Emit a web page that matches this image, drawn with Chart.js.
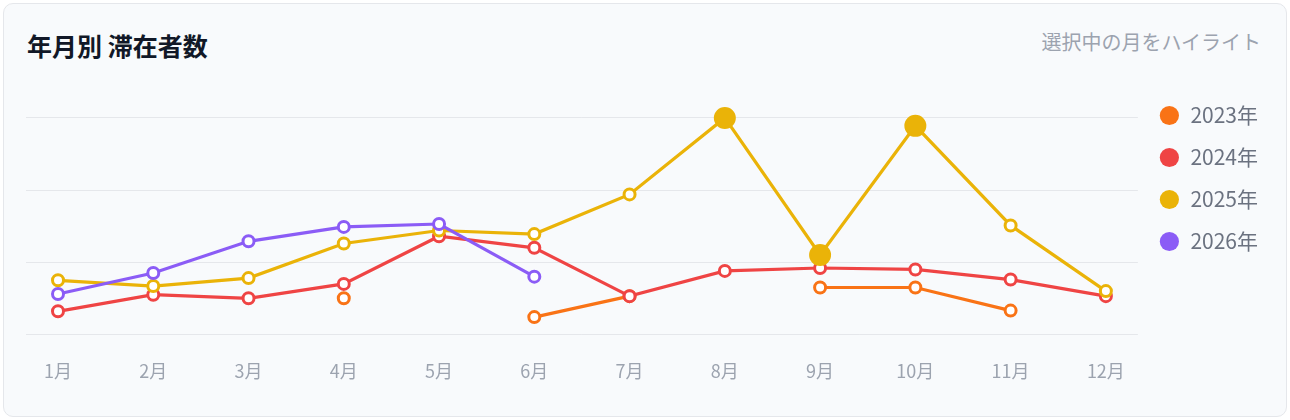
<!DOCTYPE html>
<html lang="ja">
<head>
<meta charset="utf-8">
<title>年月別 滞在者数</title>
<script src="https://cdn.jsdelivr.net/npm/chart.js@4.4.1/dist/chart.umd.min.js"></script>
<style>
  html, body { margin: 0; padding: 0; background: #ffffff; }
  body { width: 1290px; height: 420px; position: relative; overflow: hidden;
         font-family: "Noto Sans CJK JP", "Noto Sans", sans-serif; }
  .card { position: absolute; left: 3px; top: 3px; width: 1284px; height: 414px; box-sizing: border-box;
          background: #f8fafc; border: 1px solid #e5e7eb; border-radius: 10px; }
  .title { position: absolute; left: 27px; top: 30px; line-height: 30px; font-size: 25px;
           font-weight: 700; color: #111827; }
  .note { position: absolute; right: 29px; top: 27px; line-height: 30px; font-size: 20px; color: #9ca3af; }
  .chart-box { position: absolute; left: 26px; top: 84px; width: 1242px; height: 302px; }
</style>
</head>
<body>
<div class="card"></div>
<div class="title">年月別 滞在者数</div>
<div class="note">選択中の月をハイライト</div>
<div class="chart-box"><canvas id="stayChart"></canvas></div>
<script>
const FONT = '"Noto Sans CJK JP", "Noto Sans", sans-serif';

const months = ['1月', '2月', '3月', '4月', '5月', '6月', '7月', '8月', '9月', '10月', '11月', '12月'];
const years = ['2023年', '2024年', '2025年', '2026年'];
const colors = ['#f97316', '#ef4444', '#eab308', '#8b5cf6'];

// 滞在者数
const stay2023 = [null, null, null, 50, null, 24, 53, null, 65, 65, 33, null];
const stay2024 = [32, 55, 50, 70, 136, 120, 53, 88, 92, 90, 76, 53];
const stay2025 = [75, 67, 78, 126, 144, 139, 194, 300, 110, 289, 151, 60];
const stay2026 = [56, 85, 129, 149, 153, 80, null, null, null, null, null, null];

const highlightYear = '2025年';
const highlightMonths = ['8月', '9月', '10月'];

const series = [stay2023, stay2024, stay2025, stay2026];

function makeDataset(values, idx) {
  const label = years[idx];
  const color = colors[idx];
  const hl = months.map(m => label === highlightYear && highlightMonths.includes(m));
  return {
    label,
    data: values.map((v, i) => ({ x: i, y: v })),
    borderColor: color,
    borderWidth: 3.2,
    tension: 0,
    pointRadius: hl.map(h => h ? 10 : 5.5),
    pointBorderWidth: hl.map(h => h ? 2 : 3),
    pointBorderColor: color,
    pointBackgroundColor: hl.map(h => h ? color : '#ffffff'),
    // later years drawn on top
    order: years.length - idx
  };
}

new Chart(document.getElementById('stayChart'), {
  type: 'line',
  data: { datasets: series.map(makeDataset) },
  options: {
    responsive: true,
    maintainAspectRatio: false,
    animation: false,
    events: [],
    layout: { padding: 0, autoPadding: false },
    scales: {
      x: {
        type: 'linear',
        min: -0.336,
        max: 11.336,
        // tick marks hidden, their length only pushes the labels down
        grid: { display: false, drawTicks: true, tickLength: 22 },
        border: { display: false },
        ticks: {
          stepSize: 1,
          includeBounds: false,
          autoSkip: false,
          maxRotation: 0,
          padding: 4,
          color: '#9ca3af',
          font: { size: 18, family: FONT },
          callback: v => months[v] ?? ''
        }
      },
      y: {
        min: 0,
        max: 347,
        grid: { color: '#e5e7eb', lineWidth: 1, drawTicks: false },
        border: { display: false },
        ticks: { display: false, stepSize: 100, includeBounds: false }
      }
    },
    plugins: {
      tooltip: { enabled: false },
      legend: {
        position: 'right',
        align: 'start',
        labels: {
          usePointStyle: true,
          boxWidth: 21,
          boxHeight: 13.6,
          padding: 21,
          color: '#6b7280',
          font: { size: 21, family: FONT },
          generateLabels: chart => chart.data.datasets.map((ds, i) => ({
            text: ds.label,
            fillStyle: ds.borderColor,
            strokeStyle: ds.borderColor,
            fontColor: '#6b7280',
            lineWidth: 0,
            pointStyle: 'circle',
            hidden: false,
            datasetIndex: i
          }))
        }
      }
    }
  }
});
</script>
</body>
</html>
